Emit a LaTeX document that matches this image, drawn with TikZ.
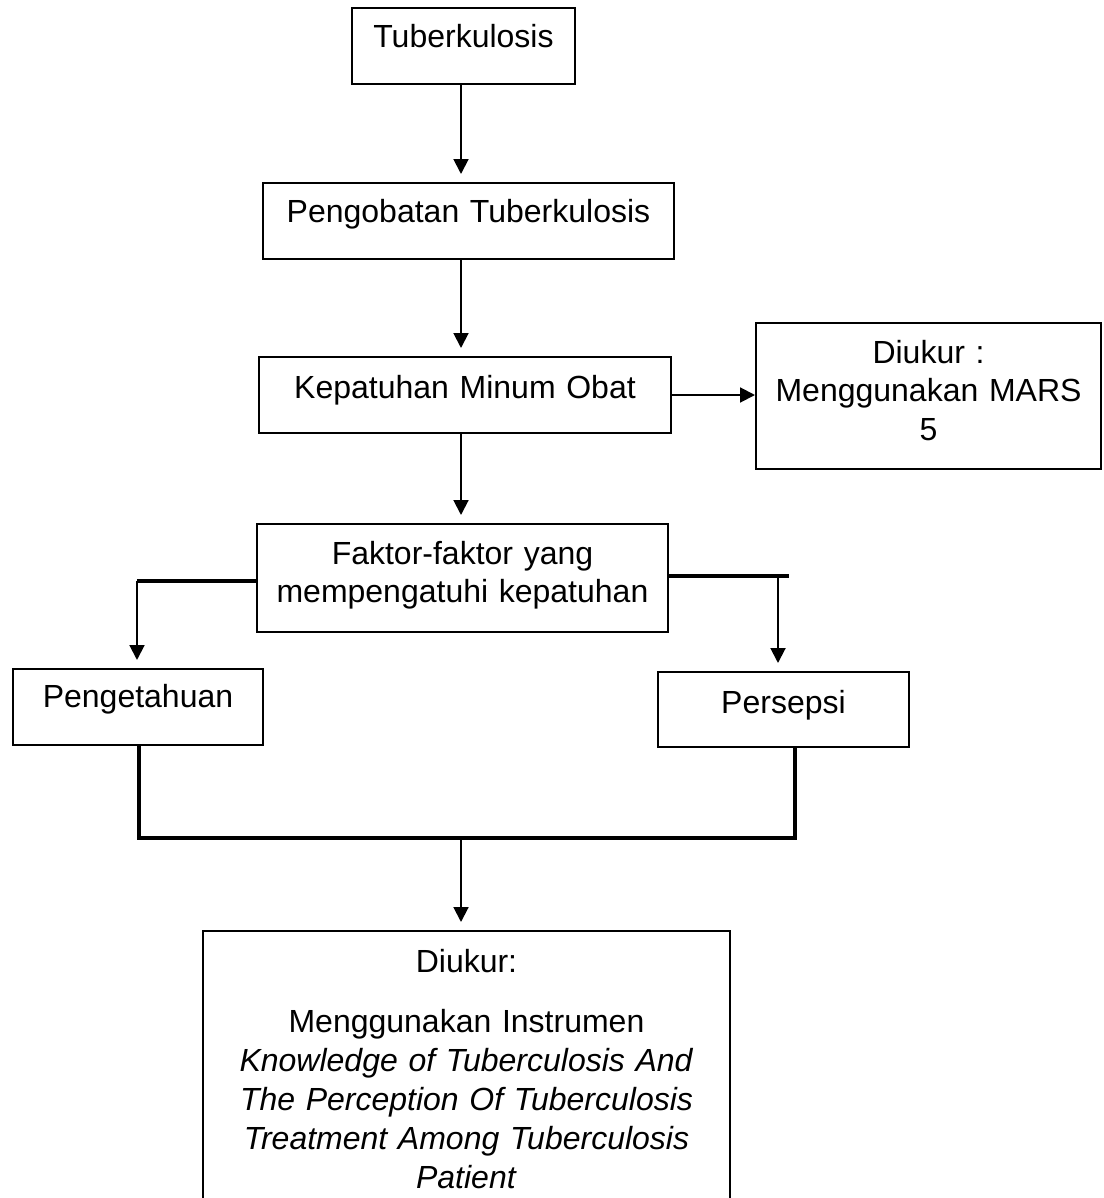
\documentclass[tikz,border=0pt]{standalone}
\usepackage{fontspec}
\setmainfont{Liberation Sans}
\usetikzlibrary{positioning, arrows.meta}
\tikzset{
  kotak/.style={draw, line width=0.75pt, anchor=north west, inner sep=0pt,
    align=center, font=\fontsize{12pt}{14.6pt}\selectfont},
  panah/.style={-{Triangle[length=5.6pt,width=5.6pt]}, line width=0.75pt, shorten >=3pt},
  tebal/.style={line width=1.5pt}
}

\begin{document}
\begin{tikzpicture}[x=0.375pt, y=-0.375pt]
      \useasboundingbox (0,0) rectangle (1104,1198);

      \node[kotak, text width=83.6pt, text height=15pt, text depth=13.5pt] (tb) at (351,7) {Tuberkulosis};
      \node[kotak, text width=154.1pt, text height=15pt, text depth=13.5pt] (obat) at (262,182) {Pengobatan Tuberkulosis};
      \node[kotak, text width=154.5pt, text height=15.4pt, text depth=13.1pt] (patuh) at (258,356) {Kepatuhan Minum Obat};
      \node[kotak, text width=129.4pt, text height=15pt, text depth=39.75pt] (mars) at (755,322) {Diukur :\\ Menggunakan MARS\\ 5};
      \node[kotak, text width=154.1pt, text height=15pt, text depth=25.5pt] (faktor) at (256,523) {Faktor-faktor yang\\ mempengatuhi kepatuhan};
      \node[kotak, text width=93.75pt, text height=14.6pt, text depth=13.9pt] (tahu) at (12,668) {Pengetahuan};
      \node[kotak, text width=94.1pt, text height=15.4pt, text depth=12.75pt] (sepsi) at (657,671) {Persepsi};
      \node[kotak, text width=197.6pt, text height=15.4pt, text depth=97pt] (ukur) at (202,930) {Diukur:\\[8pt]
        Menggunakan Instrumen\\ \textit{Knowledge of Tuberculosis And}\\ \textit{The Perception Of Tuberculosis}\\
        \textit{Treatment Among Tuberculosis}\\ \textit{Patient}};

      % cabang dan gabungan
      \coordinate (kiri) at (137,581);
      \coordinate (kanan) at (778,576);
      \coordinate (ujungkanan) at (789,576);
      \coordinate (bawahkiri) at (139,838);
      \coordinate (bawahkanan) at (795,838);
      \coordinate (gabung) at (461,838);

      \draw[panah] (tb.south -| gabung) -- (obat.north -| gabung);
      \draw[panah] (obat.south -| gabung) -- (patuh.north -| gabung);
      \draw[panah] (patuh.south -| gabung) -- (faktor.north -| gabung);
      \draw[panah, shorten >=0pt] (patuh.east) -- (patuh.east -| mars.west);

      \draw[tebal] (kiri -| faktor.west) -- (kiri);
      \draw[tebal] (kanan -| faktor.east) -- (ujungkanan);
      \draw[panah] (kiri) -- (kiri |- tahu.north);
      \draw[panah] (kanan) -- (kanan |- sepsi.north);

      \draw[tebal] (bawahkiri |- tahu.south) -- (bawahkiri) -- (bawahkanan) -- (bawahkanan |- sepsi.south);
      \draw[panah] (gabung) -- (gabung |- ukur.north);
    \end{tikzpicture}
\end{document}
